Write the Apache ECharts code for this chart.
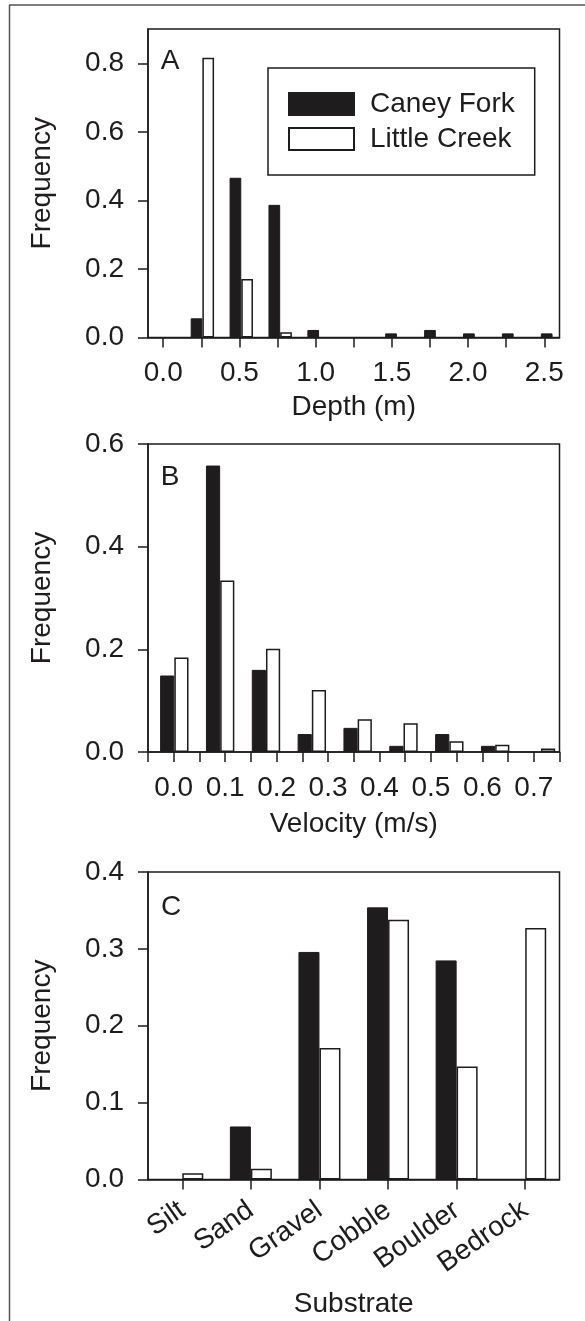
<!DOCTYPE html>
<html>
<head>
<meta charset="utf-8">
<script src="https://cdn.jsdelivr.net/npm/echarts@6/dist/echarts.min.js"></script>
<style>
  html, body { margin: 0; padding: 0; background: #fff; }
  #chart { width: 585px; height: 1321px; }
</style>
</head>
<body>
<div id="chart"></div>
<script>
// A: depth
const depthBins = [0, 0.25, 0.5, 0.75, 1.0, 1.25, 1.5, 1.75, 2.0, 2.25, 2.5];
const depthCaney = [null, 0.056, 0.466, 0.387, 0.022, null, 0.012, 0.022, 0.012, 0.012, 0.012];
const depthLittle = [null, 0.816, 0.171, 0.015, null, null, null, null, null, null, null];
const depthTicks = [0, 0.25, 0.5, 0.75, 1.0, 1.25, 1.5, 1.75, 2.0, 2.25, 2.5];
const depthLabels = [0, 0.5, 1.0, 1.5, 2.0, 2.5];
const depthFreqTicks = [0, 0.2, 0.4, 0.6, 0.8];

// B: velocity
const velocityBins = ["0.0", "0.1", "0.2", "0.3", "0.4", "0.5", "0.6", "0.7", "0.8"];
const velocityCaney = [0.149, 0.558, 0.160, 0.035, 0.047, 0.012, 0.035, 0.012, null];
const velocityLittle = [0.184, 0.334, 0.201, 0.121, 0.064, 0.056, 0.021, 0.014, 0.007];
const velocityTicks = [-0.05, 0, 0.05, 0.1, 0.15, 0.2, 0.25, 0.3, 0.35, 0.4, 0.45, 0.5, 0.55, 0.6, 0.65, 0.7, 0.75];
const velocityLabels = [0, 0.1, 0.2, 0.3, 0.4, 0.5, 0.6, 0.7];
const velocityFreqTicks = [0, 0.2, 0.4, 0.6];

// C: substrate
const substrates = ["Silt", "Sand", "Gravel", "Cobble", "Boulder", "Bedrock"];
const substrateCaney = [null, 0.069, 0.296, 0.354, 0.285, null];
const substrateLittle = [0.008, 0.014, 0.171, 0.338, 0.147, 0.327];
const substrateFreqTicks = [0, 0.1, 0.2, 0.3, 0.4];

const ink = "#1e1c1d";
const font = "'Liberation Sans', Arial, sans-serif";
const fs = 28;

const chart = echarts.init(document.getElementById("chart"), null, { renderer: "canvas" });

const line = { lineStyle: { color: ink, width: 1.5 } };
const fmt1 = (v) => Number(v).toFixed(1);

function valueX(grid, min, max, ticks, labels, name, nameGap) {
  return {
    type: "value", gridIndex: grid, min: min, max: max,
    name: name, nameLocation: "middle", nameGap: nameGap,
    nameTextStyle: { fontSize: fs, color: ink, fontFamily: font },
    axisLine: { show: true, onZero: false, ...line },
    axisTick: { show: true, inside: false, length: 10, customValues: ticks, ...line },
    axisLabel: { customValues: labels, formatter: fmt1, margin: 22, fontSize: fs, color: ink, fontFamily: font },
    splitLine: { show: false },
  };
}

function freqY(grid, max, ticks) {
  return {
    type: "value", gridIndex: grid, min: 0, max: max,
    name: "Frequency", nameLocation: "middle", nameGap: 92,
    nameTextStyle: { fontSize: fs, color: ink, fontFamily: font },
    axisLine: { show: true, onZero: false, ...line },
    axisTick: { show: true, inside: false, length: 10, customValues: ticks, ...line },
    axisLabel: { customValues: ticks, formatter: fmt1, margin: 24, fontSize: fs, color: ink, fontFamily: font },
    splitLine: { show: false },
  };
}

function hiddenX(grid, data) {
  return { type: "category", gridIndex: grid, data: data, show: false };
}
function hiddenY(grid, max) {
  return { type: "value", gridIndex: grid, min: 0, max: max, show: false, splitLine: { show: false } };
}

function pair(xi, yi, caney, little, w) {
  return [
    {
      name: "Caney Fork", type: "bar", xAxisIndex: xi, yAxisIndex: yi, data: caney,
      barWidth: w, barGap: "0%",
      itemStyle: { color: ink, borderColor: ink, borderWidth: 1 },
    },
    {
      name: "Little Creek", type: "bar", xAxisIndex: xi, yAxisIndex: yi, data: little,
      barWidth: w, barGap: "0%",
      itemStyle: { color: "#fff", borderColor: ink, borderWidth: 1.5 },
    },
  ];
}

const box = { show: true, borderColor: ink, borderWidth: 1.5, backgroundColor: "transparent" };

const option = {
  animation: false,
  backgroundColor: "#fff",
  grid: [
    { ...box, left: 148, top: 29, width: 411.5, height: 308.5 },
    { ...box, left: 148, top: 444, width: 411.5, height: 308 },
    { ...box, left: 148, top: 872, width: 411.5, height: 307.5 },
    // bar layers for A and B (bins sit on their own spacing)
    { left: 144, top: 29, width: 428, height: 308.5 },
    { left: 151.4, top: 444, width: 412.5, height: 308 },
  ],
  xAxis: [
    valueX(0, -0.1, 2.6, depthTicks, depthLabels, "Depth (m)", 56),
    valueX(1, -0.05, 0.75, velocityTicks, velocityLabels, "Velocity (m/s)", 58),
    {
      type: "category", gridIndex: 2, data: substrates,
      name: "Substrate", nameLocation: "middle", nameGap: 111,
      nameTextStyle: { fontSize: fs, color: ink, fontFamily: font },
      axisLine: { show: true, ...line },
      axisTick: { show: true, alignWithLabel: true, inside: false, length: 10, ...line },
      axisLabel: { rotate: 35, margin: 28, fontSize: fs, color: ink, fontFamily: font, interval: 0 },
    },
    hiddenX(3, depthBins),
    hiddenX(4, velocityBins),
  ],
  yAxis: [
    freqY(0, 0.9, depthFreqTicks),
    freqY(1, 0.6, velocityFreqTicks),
    freqY(2, 0.4, substrateFreqTicks),
    hiddenY(3, 0.9),
    hiddenY(4, 0.6),
  ],
  legend: {
    orient: "vertical", left: 268, top: 68,
    itemWidth: 65, itemHeight: 22, itemGap: 7,
    padding: [22, 20, 22, 20],
    borderColor: ink, borderWidth: 1.5,
    selectedMode: false, icon: "rect",
    textStyle: { fontSize: 28, color: ink, fontFamily: font, padding: [0, 0, 0, 11] },
    data: ["Caney Fork", "Little Creek"],
  },
  graphic: [
    { type: "line", shape: { x1: 9, y1: 5, x2: 585, y2: 5 }, style: { stroke: "#555", lineWidth: 1.5 } },
    { type: "line", shape: { x1: 9.5, y1: 5, x2: 9.5, y2: 1321 }, style: { stroke: "#555", lineWidth: 1.5 } },
    { type: "text", x: 170, y: 61, style: { text: "A", fontSize: fs, fontFamily: font, fill: ink, align: "center", verticalAlign: "middle" } },
    { type: "text", x: 170, y: 477, style: { text: "B", fontSize: fs, fontFamily: font, fill: ink, align: "center", verticalAlign: "middle" } },
    { type: "text", x: 171, y: 907, style: { text: "C", fontSize: fs, fontFamily: font, fill: ink, align: "center", verticalAlign: "middle" } },
  ],
  series: [
    ...pair(3, 3, depthCaney, depthLittle, 11.7),
    ...pair(4, 4, velocityCaney, velocityLittle, 14.2),
    ...pair(2, 2, substrateCaney, substrateLittle, 21),
  ],
};

chart.setOption(option);
window.addEventListener("resize", () => chart.resize());
</script>
</body>
</html>
